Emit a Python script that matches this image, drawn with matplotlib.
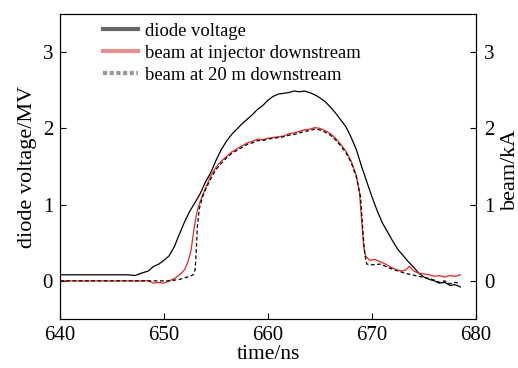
import matplotlib
matplotlib.use("Agg")
import matplotlib.pyplot as plt
from matplotlib.lines import Line2D

plt.rcParams["font.family"] = ["Liberation Serif", "DejaVu Serif"]
plt.rcParams["mathtext.fontset"] = "stix"

# diode voltage (MV)
t_diode = [640.0, 646.5, 647.2, 647.8, 648.5, 649.0, 649.5, 650.0, 650.5, 651.0,
           651.5, 652.0, 652.5, 653.0, 653.5, 654.0, 654.5, 655.0, 655.5, 656.0,
           656.5, 657.0, 657.5, 658.0, 658.5, 659.0, 659.5, 660.0, 660.5, 661.0,
           661.5, 662.0, 662.5, 663.0, 663.5, 664.0, 664.5, 665.0, 665.5, 666.0,
           666.5, 667.0, 667.5, 668.0, 668.5, 669.0, 669.5, 670.0, 670.5, 671.0,
           671.5, 672.0, 672.5, 673.0, 673.5, 674.0, 674.5, 675.0, 675.5, 676.0,
           676.5, 677.0, 677.5, 678.0, 678.5]
v_diode = [0.08, 0.08, 0.07, 0.10, 0.13, 0.19, 0.22, 0.27, 0.33, 0.45,
           0.62, 0.78, 0.92, 1.03, 1.15, 1.30, 1.42, 1.58, 1.72, 1.83,
           1.92, 1.99, 2.06, 2.12, 2.18, 2.25, 2.30, 2.37, 2.42, 2.45,
           2.46, 2.47, 2.49, 2.48, 2.49, 2.47, 2.44, 2.40, 2.35, 2.28,
           2.20, 2.11, 2.02, 1.88, 1.72, 1.50, 1.30, 1.10, 0.92, 0.76,
           0.64, 0.52, 0.41, 0.33, 0.25, 0.18, 0.10, 0.05, 0.02, 0.00,
           -0.03, -0.02, -0.06, -0.05, -0.08]

# beam at injector downstream (kA)
t_inj = [640.0, 648.5, 649.0, 649.5, 650.0, 650.5, 651.0, 651.5, 652.0, 652.3,
         652.6, 652.8, 653.0, 653.2, 653.5, 654.0, 654.5, 655.0, 655.5, 656.0,
         656.5, 657.0, 657.5, 658.0, 658.5, 659.0, 659.5, 660.0, 660.5, 661.0,
         661.5, 662.0, 662.5, 663.0, 663.5, 664.0, 664.5, 665.0, 665.5, 666.0,
         666.5, 667.0, 667.5, 668.0, 668.5, 668.8, 669.0, 669.2, 669.4, 669.8,
         670.3, 670.8, 671.3, 671.8, 672.3, 672.8, 673.2, 673.6, 674.0, 674.5,
         675.0, 675.5, 676.0, 676.5, 677.0, 677.5, 678.0, 678.5]
i_inj = [0.0, 0.0, -0.03, -0.02, -0.03, 0.0, 0.03, 0.08, 0.15, 0.25,
         0.40, 0.60, 0.78, 0.92, 1.05, 1.22, 1.38, 1.49, 1.57, 1.63,
         1.69, 1.73, 1.77, 1.81, 1.83, 1.86, 1.85, 1.87, 1.88, 1.89,
         1.90, 1.93, 1.94, 1.96, 1.98, 1.99, 2.01, 2.00, 1.97, 1.93,
         1.87, 1.79, 1.70, 1.57, 1.38, 1.15, 0.80, 0.45, 0.32, 0.27,
         0.28, 0.25, 0.22, 0.18, 0.15, 0.13, 0.14, 0.19, 0.13, 0.10,
         0.09, 0.08, 0.06, 0.07, 0.05, 0.07, 0.06, 0.08]

# beam at 20 m downstream (kA)
t_20m = [640.0, 650.5, 651.0, 651.5, 652.0, 652.5, 652.8, 653.0, 653.1, 653.2,
         653.4, 653.7, 654.0, 654.5, 655.0, 655.5, 656.0, 656.5, 657.0, 657.5,
         658.0, 658.5, 659.0, 659.5, 660.0, 660.5, 661.0, 661.5, 662.0, 662.5,
         663.0, 663.5, 664.0, 664.5, 665.0, 665.5, 666.0, 666.5, 667.0, 667.5,
         668.0, 668.5, 668.9, 669.1, 669.3, 669.5, 670.0, 670.8, 671.5, 672.0,
         672.7, 673.5, 674.5, 675.5, 676.0, 676.5, 677.0, 677.5, 678.0, 678.5]
i_20m = [0.0, 0.0, 0.01, 0.02, 0.04, 0.06, 0.08, 0.15, 0.40, 0.70,
         0.95, 1.10, 1.20, 1.34, 1.46, 1.54, 1.61, 1.67, 1.71, 1.75,
         1.79, 1.81, 1.84, 1.84, 1.86, 1.87, 1.88, 1.89, 1.91, 1.92,
         1.94, 1.96, 1.97, 1.99, 1.98, 1.95, 1.91, 1.85, 1.77, 1.68,
         1.55, 1.36, 1.10, 0.70, 0.35, 0.22, 0.21, 0.22, 0.18, 0.15,
         0.12, 0.09, 0.06, 0.03, 0.01, -0.02, 0.0, -0.04, -0.02, -0.03]

fig = plt.figure(figsize=(5.18, 3.68), dpi=100)
ax = fig.add_axes([60 / 518, 49 / 368, 416 / 518, 305 / 368])
ax2 = ax.twinx()

ax.plot(t_diode, v_diode, color="black", lw=0.9)
ax2.plot(t_inj, i_inj, color="#e8261e", lw=0.9)
ax2.plot(t_20m, i_20m, color="black", lw=0.9, ls=(0, (3, 2)))

for a in (ax, ax2):
    a.set_xlim(640, 680)
    a.set_ylim(-0.5, 3.5)
    a.set_yticks([0, 1, 2, 3])
ax.set_xticks([640, 650, 660, 670, 680])
ax.tick_params(direction="in", labelsize=15, length=4, top=False, pad=5)
ax2.tick_params(direction="in", labelsize=15, length=4, pad=6)

ax.set_xlabel("time/ns", fontsize=15.5, labelpad=0)
ax.set_ylabel("diode voltage/MV", fontsize=16, labelpad=4)
# right axis label sits close to the figure edge, place it by hand
fig.text(510 / 518, 199 / 368, "beam/kA", fontsize=16, rotation=90,
         ha="center", va="center")

handles = [
    Line2D([], [], color="#666666", lw=3),
    Line2D([], [], color="#e89090", lw=3),
    Line2D([], [], color="#999999", lw=3, ls=(0, (1, 0.6))),
]
labels = ["diode voltage", "beam at injector downstream", "beam at 20 m downstream"]
ax.legend(handles, labels, loc="upper left", frameon=False, fontsize=13.4,
          handlelength=1.9, handletextpad=0.35, labelspacing=0.26,
          borderaxespad=0.0, bbox_to_anchor=(0.085, 0.995))

fig.savefig("out.png", dpi=100)
